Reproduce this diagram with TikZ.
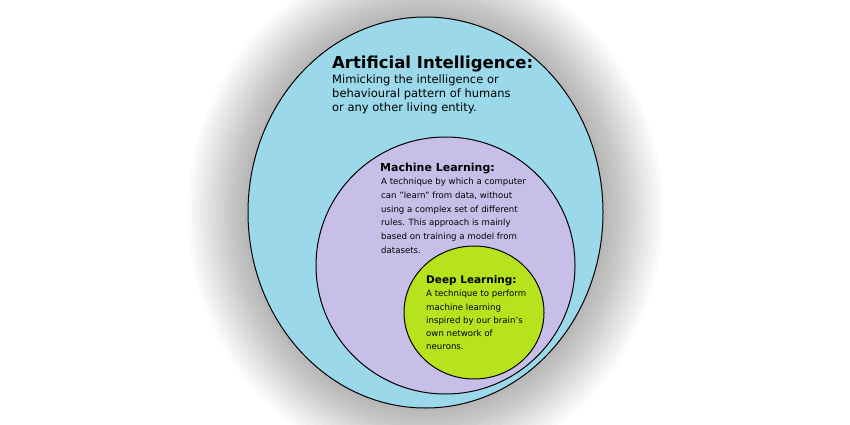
\documentclass[tikz,border=0pt]{standalone}
\usepackage{fontspec}
\setmainfont{DejaVu Sans}
\definecolor{aiblue}{HTML}{9BD9EA}
\definecolor{mlpurple}{HTML}{C7BFE8}
\definecolor{dlgreen}{HTML}{B7E21E}
\tikzset{
  circ/.style={draw=black, line width=1pt},
  txt/.style={anchor=north west, inner sep=0pt, align=left, text=black}
}
\begin{document}
\begin{tikzpicture}[x=1pt,y=-1pt]
\fill[white] (0,0) rectangle (850,425);
\useasboundingbox (0,0) rectangle (850,425);
\foreach \r in {60,56,...,4}{
  \fill[black, opacity=0.018] (425.5,212.5) ellipse ({177.5+\r} and {195.5+\r});
}
\draw[circ, fill=aiblue] (425.5,212.5) ellipse (177.5 and 195.5);
\node (ai) [circ, fill=mlpurple, ellipse-free/.style={}, draw=none, fill=none] at (445.5,265.5) {};
\draw[circ, fill=mlpurple] (445.5,265.5) ellipse (129.5 and 128.5);
\draw[circ, fill=dlgreen] (474,312.5) ellipse (70 and 66.5);
\node (aititle) [txt, font=\bfseries\fontsize{16.5}{20}\selectfont] at (332,56) {Artificial Intelligence:};
\node (aibody) [txt, font=\fontsize{11.5}{13.6}\selectfont] at (332,75) {Mimicking the intelligence or\\behavioural pattern of humans\\or any other living entity.};
\node (mltitle) [txt, font=\bfseries\fontsize{11}{13}\selectfont] at (380,163) {Machine Learning:};
\node (mlbody) [txt, font=\fontsize{8.6}{13.7}\selectfont] at (381,178) {A technique by which a computer\\can "learn" from data, without\\using a complex set of different\\rules. This approach is mainly\\based on training a model from\\datasets.};
\node (dltitle) [txt, font=\bfseries\fontsize{10.5}{13}\selectfont] at (426,275) {Deep Learning:};
\node (dlbody) [txt, font=\fontsize{8.6}{13.3}\selectfont] at (426,290) {A technique to perform\\machine learning\\inspired by our brain's\\own network of\\neurons.};
\end{tikzpicture}
\end{document}
